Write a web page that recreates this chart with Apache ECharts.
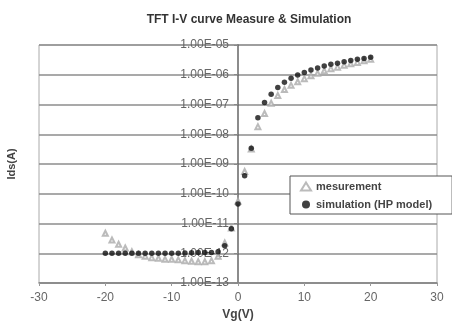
<!DOCTYPE html>
<html>
<head>
<meta charset="utf-8">
<script src="https://cdn.jsdelivr.net/npm/echarts@6/dist/echarts.min.js"></script>
<style>
  html, body { margin: 0; padding: 0; background: #fff; }
  #chart-container { width: 452px; height: 324px; }
</style>
</head>
<body>
<div id="chart-container"></div>
<script>
// gate voltage steps (V)
const vg = [-20, -19, -18, -17, -16, -15, -14, -13, -12, -11, -10, -9, -8, -7, -6, -5, -4, -3, -2, -1,
  0, 1, 2, 3, 4, 5, 6, 7, 8, 9, 10, 11, 12, 13, 14, 15, 16, 17, 18, 19, 20];

// Ids (A)
const measurement = [4.7e-12, 2.8e-12, 2.0e-12, 1.5e-12, 1.12e-12, 8.9e-13, 7.9e-13, 7.1e-13, 6.8e-13, 6.3e-13,
  6.3e-13, 6.0e-13, 5.6e-13, 5.4e-13, 5.2e-13, 5.2e-13, 5.6e-13, 7.9e-13, 2.2e-12, 7.1e-12,
  5.6e-11, 5.6e-10, 3.2e-9, 1.8e-8, 5.0e-8, 1.1e-7, 2.0e-7, 3.2e-7, 4.4e-7, 5.8e-7,
  7.4e-7, 9.3e-7, 1.12e-6, 1.35e-6, 1.6e-6, 1.8e-6, 2.1e-6, 2.35e-6, 2.6e-6, 2.95e-6, 3.3e-6];

const simulation = [1.0e-12, 1.0e-12, 1.0e-12, 1.0e-12, 1.0e-12, 1.0e-12, 1.0e-12, 1.0e-12, 1.0e-12, 1.0e-12,
  1.0e-12, 1.0e-12, 1.02e-12, 1.03e-12, 1.05e-12, 1.06e-12, 1.07e-12, 1.12e-12, 1.78e-12, 6.6e-12,
  4.5e-11, 4.0e-10, 3.4e-9, 3.6e-8, 1.17e-7, 2.2e-7, 3.7e-7, 5.6e-7, 7.6e-7, 9.8e-7,
  1.2e-6, 1.45e-6, 1.7e-6, 1.95e-6, 2.24e-6, 2.45e-6, 2.75e-6, 3.0e-6, 3.3e-6, 3.55e-6, 3.9e-6];

const seriesNames = ["mesurement", "simulation (HP model)"];

const pair = (ys) => vg.map((v, i) => [v, ys[i]]);

const expLabel = (val) => {
  const e = Math.round(Math.log10(val));
  const a = Math.abs(e);
  return "1.00E" + (e < 0 ? "-" : "+") + (a < 10 ? "0" + a : a);
};

const font = "Liberation Sans";
const gridLeft = 39;

const option = {
  animation: false,
  title: {
    text: "TFT I-V curve Measure & Simulation",
    left: 244,
    textAlign: "center",
    top: 9,
    textStyle: { fontFamily: font, fontSize: 12, fontWeight: "bold", color: "#333" },
  },
  legend: {
    orient: "vertical",
    left: 290,
    top: 176,
    padding: [5, 20, 4, 10],
    itemGap: 7,
    itemWidth: 10,
    itemHeight: 8,
    backgroundColor: "#fff",
    borderColor: "#555",
    borderWidth: 1,
    textStyle: { fontFamily: font, fontSize: 11, fontWeight: "bold", color: "#444" },
    data: seriesNames,
  },
  grid: {
    left: gridLeft,
    right: 15,
    top: 45,
    bottom: 41,
    outerBoundsMode: "none",
    show: true,
    borderColor: "#aaa",
    borderWidth: 1,
  },
  xAxis: {
    type: "value",
    min: -30,
    max: 30,
    interval: 10,
    name: "Vg(V)",
    nameLocation: "middle",
    nameGap: 26,
    nameTextStyle: { fontFamily: font, fontSize: 12, fontWeight: "bold", color: "#444" },
    axisLine: { onZero: false, lineStyle: { color: "#888", width: 1.5 } },
    axisTick: { show: true, length: 3, lineStyle: { color: "#999" } },
    axisLabel: { fontFamily: font, fontSize: 12, color: "#666", margin: 9 },
    splitLine: { show: false },
  },
  yAxis: [
    {
      // grid lines + name at the left edge
      type: "log",
      logBase: 10,
      min: 1e-13,
      max: 1e-5,
      name: "Ids(A)",
      nameLocation: "middle",
      nameRotate: 90,
      nameGap: 22,
      nameTextStyle: { fontFamily: font, fontSize: 11, fontWeight: "bold", color: "#444" },
      axisLine: { show: false },
      axisTick: { show: false },
      axisLabel: { show: false },
      splitLine: { show: true, lineStyle: { color: "#8c8c8c", width: 1.5 } },
    },
    {
      // the axis itself, moved over to Vg = 0
      type: "log",
      logBase: 10,
      min: 1e-13,
      max: 1e-5,
      position: "left",
      offset: 0,
      axisLine: { show: true, onZero: false, lineStyle: { color: "#666", width: 1.5 } },
      axisTick: { show: true, length: 4, lineStyle: { color: "#888" } },
      axisLabel: { fontFamily: font, fontSize: 12, color: "#666", margin: 9, formatter: expLabel },
      splitLine: { show: false },
    },
  ],
  series: [
    {
      name: seriesNames[0],
      type: "scatter",
      symbol: "emptyTriangle",
      symbolSize: 5,
      itemStyle: { color: "#aaa", borderColor: "#aaa", borderWidth: 1 },
      data: pair(measurement),
      z: 2,
    },
    {
      name: seriesNames[1],
      type: "scatter",
      symbol: "circle",
      symbolSize: 5.5,
      itemStyle: { color: "#111" },
      data: pair(simulation),
      z: 3,
    },
  ],
};

const chart = echarts.init(document.getElementById("chart-container"), null, { renderer: "canvas" });
chart.setOption(option);

// shift the labelled y axis so it sits on Vg = 0
const zeroX = chart.convertToPixel({ xAxisIndex: 0 }, 0);
chart.setOption({ yAxis: [{}, { offset: gridLeft - zeroX }] });
</script>
</body>
</html>
